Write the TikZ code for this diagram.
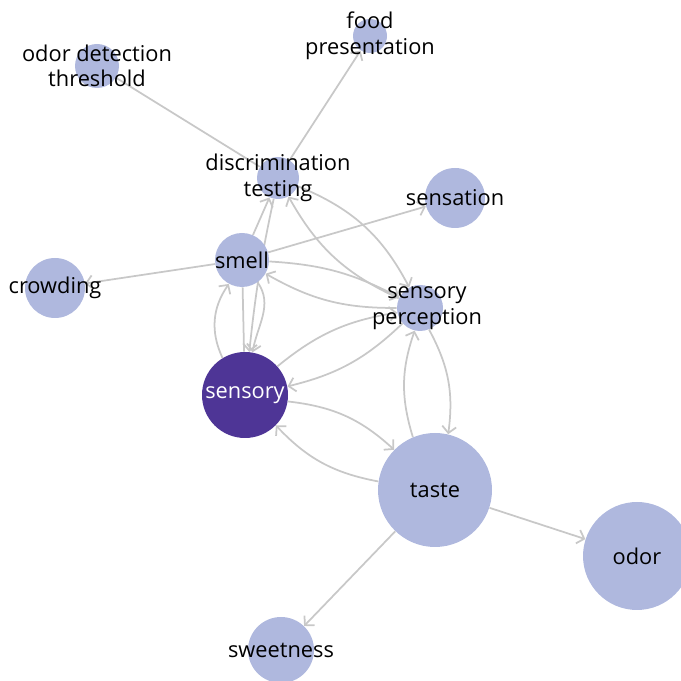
\documentclass[tikz,border=0pt]{standalone}
\usepackage{fontspec}
\setmainfont{Open Sans}
\usepackage{xcolor}
\usepackage{tikz}
\usetikzlibrary{backgrounds}
\usetikzlibrary{arrows.meta}
\definecolor{topic}{HTML}{AFB8DE}
\definecolor{focus}{HTML}{4E3596}
\definecolor{edge}{HTML}{C8C8C8}
\tikzset{term/.style={circle, fill=topic, inner sep=0pt, minimum size=#1*0.2mm}}
\tikzset{termlabel/.style={font=\fontsize{12.4}{14.5}\selectfont, align=center, text=black}}
\tikzset{link/.style={draw=edge, line width=0.35mm, -{Straight Barb[length=1.3mm,width=2.8mm]}}}

\begin{document}
\begin{tikzpicture}[x=0.2mm, y=0.2mm]
\useasboundingbox (0,0) rectangle (681,681);
\node [term=34, label={[termlabel]center:{food\\presentation}}] (food) at (370,645) {};
\node [term=44, label={[termlabel]center:{odor detection\\threshold}}] (thr) at (97,615) {};
\node [term=42, label={[termlabel]center:{discrimination\\testing}}] (disc) at (278,503) {};
\node [term=60, label={[termlabel]center:sensation}] (sens) at (455,483) {};
\node [term=54, label={[termlabel]center:smell}] (smell) at (242,421) {};
\node [term=60, label={[termlabel]center:crowding}] (crowd) at (55,393) {};
\node [term=46, label={[termlabel,xshift=1.4mm]center:{sensory\\perception}}] (perc) at (420,373) {};
\node [term=86, fill=focus, label={[termlabel,text=white]center:sensory}] (sensory) at (245,286) {};
\node [term=114, label={[termlabel]center:taste}] (taste) at (435,191) {};
\node [term=108, label={[termlabel]center:odor}] (odor) at (637,125) {};
\node [term=66, label={[termlabel]center:sweetness}] (sweet) at (281,31) {};

\begin{scope}[on background layer]
\draw [link, -] (thr) -- (disc);
\draw [link] (disc) -- (food);
\draw [link] (smell) -- (disc);
\draw [link] (smell) -- (sens);
\draw [link] (smell) -- (crowd);
\draw [link, -] (smell) -- (sensory);
\draw [link] (smell) to[out=-55, in=80] (sensory);
\draw [link] (sensory) to[bend left=30] (smell);
\draw [link] (disc) to[bend right=3] (sensory);
\draw [link] (disc) to[bend left=20] (perc);
\draw [link] (perc) to[bend left=18] (disc);
\draw [link] (smell) to[bend left=12] (perc);
\draw [link] (perc) to[bend left=15] (smell);
\draw [link] (perc) to[bend left=15] (sensory);
\draw [link] (sensory) to[bend left=15] (perc);
\draw [link] (taste) to[bend left=18] (perc);
\draw [link] (perc) to[bend left=18] (taste);
\draw [link] (sensory) to[bend left=18] (taste);
\draw [link] (taste) to[bend left=18] (sensory);
\draw [link] (taste) -- (odor);
\draw [link] (taste) -- (sweet);
\end{scope}
\end{tikzpicture}
\end{document}
